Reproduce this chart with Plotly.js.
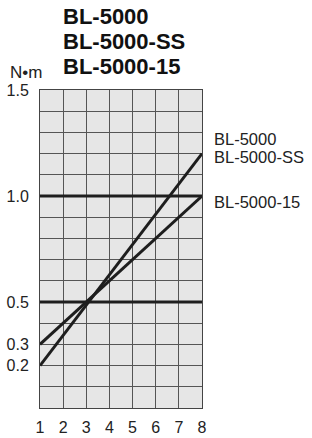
<!DOCTYPE html>
<html>
<head>
<meta charset="utf-8">
<script src="https://cdn.plot.ly/plotly-3.0.1.min.js"></script>
<style>html,body{margin:0;padding:0;background:#fff;}#chart{width:312px;height:438px;}</style>
</head>
<body>
<div id="chart"></div>
<script>
// Data
const titleLines = ['BL-5000', 'BL-5000-SS', 'BL-5000-15'];
const unitLabel = 'N•m';
const xValues = [1, 8];
const steepSeries = [0.2, 1.2];      // BL-5000 / BL-5000-SS
const shallowSeries = [0.3, 1.0];    // BL-5000-15
const refLevels = [0.5, 1.0];
const seriesLabels = ['BL-5000', 'BL-5000-SS', 'BL-5000-15'];
const xTicks = [1, 2, 3, 4, 5, 6, 7, 8];
const yGrid = [0, 0.1, 0.2, 0.3, 0.4, 0.5, 0.6, 0.7, 0.8, 0.9, 1.0, 1.1, 1.2, 1.3, 1.4, 1.5];
const yLabelled = {0.2: '0.2', 0.3: '0.3', 0.5: '0.5', 1.0: '1.0', 1.5: '1.5'};

const lineColor = '#1e1e1e';
const traces = [];
refLevels.forEach(v => {
  traces.push({x: xValues, y: xValues.map(() => v), mode: 'lines',
    line: {color: lineColor, width: 3}, hoverinfo: 'skip', showlegend: false});
});
traces.push({x: xValues, y: steepSeries, mode: 'lines', line: {color: lineColor, width: 3}, showlegend: false});
traces.push({x: xValues, y: shallowSeries, mode: 'lines', line: {color: lineColor, width: 3}, showlegend: false});

const fontFam = "'Liberation Sans', Arial, sans-serif";
const annotations = [];
const titleY = [17, 41.5, 66];
titleLines.forEach((t, i) => {
  annotations.push({text: '<b>' + t + '</b>', xref: 'paper', yref: 'paper',
    x: (61 - 40) / 162, y: (408 - titleY[i]) / 318, xanchor: 'left', yanchor: 'middle',
    showarrow: false, font: {family: fontFam, size: 22, color: '#111'}});
});
annotations.push({text: unitLabel, xref: 'paper', yref: 'paper', x: (8 - 40) / 162, y: (408 - 73) / 318,
  xanchor: 'left', yanchor: 'middle', showarrow: false, font: {family: fontFam, size: 17, color: '#222'}});
const labelY = [138.7, 157, 202];
seriesLabels.forEach((t, i) => {
  annotations.push({text: t, xref: 'paper', yref: 'paper', x: (212 - 40) / 162, y: (408 - labelY[i]) / 318,
    xanchor: 'left', yanchor: 'middle', showarrow: false, font: {family: fontFam, size: 16.5, color: '#222'}});
});

const layout = {
  width: 312, height: 438,
  margin: {l: 40, r: 110, t: 90, b: 30, pad: 0},
  paper_bgcolor: '#ffffff', plot_bgcolor: '#e6e6e6',
  showlegend: false,
  font: {family: fontFam, color: '#222'},
  xaxis: {range: [1, 8], tickmode: 'array', tickvals: xTicks, ticktext: xTicks.map(String),
    showgrid: true, gridcolor: '#555', gridwidth: 1, zeroline: false,
    showline: true, mirror: true, linecolor: '#444', linewidth: 1,
    ticks: '', ticklabelstandoff: 5, tickfont: {size: 16, color: '#222'}, fixedrange: true},
  yaxis: {range: [0, 1.5], tickmode: 'array', tickvals: yGrid,
    ticktext: yGrid.map(v => yLabelled[v.toFixed(1) * 1] || ''),
    showgrid: true, gridcolor: '#555', gridwidth: 1, zeroline: false,
    showline: true, mirror: true, linecolor: '#444', linewidth: 1,
    ticks: '', ticklabelstandoff: 7, tickfont: {size: 16, color: '#222'}, fixedrange: true},
  annotations: annotations
};

Plotly.newPlot('chart', traces, layout, {staticPlot: true, displayModeBar: false});
</script>
</body>
</html>
